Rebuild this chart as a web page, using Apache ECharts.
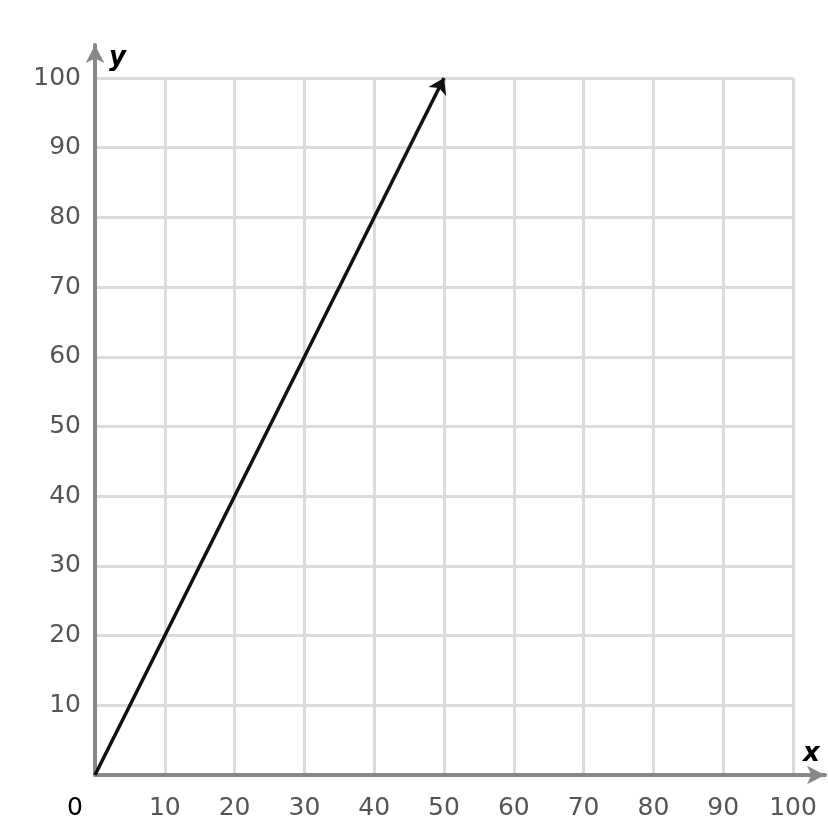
<!DOCTYPE html>
<html><head><meta charset="utf-8">
<script src="https://cdn.jsdelivr.net/npm/echarts@6/dist/echarts.min.js"></script>
<style>html,body{margin:0;padding:0;background:#fff}#c{width:828px;height:828px}</style>
</head><body><div id="c"></div>
<script>
const xTicks = [0,10,20,30,40,50,60,70,80,90,100];
const yTicks = [0,10,20,30,40,50,60,70,80,90,100];
const lineStart = [0, 0];
const lineEnd = [50, 100];

const chart = echarts.init(document.getElementById('c'), null, {renderer:'canvas'});
const font = 'DejaVu Sans';
const fs = 25;
chart.setOption({
  animation:false,
  backgroundColor:'#fff',
  grid:[
    {left:95, right:35, top:78, bottom:53},
    {left:95, right:3, top:45, bottom:53}
  ],
  xAxis:[
    {gridIndex:0, type:'value', min:xTicks[0], max:xTicks[xTicks.length-1], interval:10,
     axisLine:{show:false}, axisTick:{show:false},
     splitLine:{show:true, lineStyle:{color:'#dcdcdc', width:3}},
     axisLabel:{margin:21, color:'#555', fontFamily:font, fontSize:fs,
       formatter:function(v){ return v===0 ? '{z|0}' : String(v); },
       rich:{z:{color:'#000', fontFamily:font, fontSize:fs, padding:[0,40,0,0]}}}},
    {gridIndex:1, type:'value', min:0, max:1,
     axisLine:{show:true, onZero:false, symbol:['none','arrow'], symbolSize:[14,18], lineStyle:{color:'#888', width:4}},
     axisTick:{show:false}, axisLabel:{show:false}, splitLine:{show:false},
     name:'x', nameLocation:'end', nameGap:-22,
     nameTextStyle:{color:'#000', fontFamily:font, fontSize:26, fontWeight:'bold', fontStyle:'italic', align:'left', verticalAlign:'bottom', padding:[0,0,8,0]}}
  ],
  yAxis:[
    {gridIndex:0, type:'value', min:yTicks[0], max:yTicks[yTicks.length-1], interval:10,
     axisLine:{show:false}, axisTick:{show:false},
     splitLine:{show:true, lineStyle:{color:'#dcdcdc', width:3}},
     axisLabel:{margin:14, color:'#555', fontFamily:font, fontSize:fs,
       formatter:function(v){ return v===0 ? '' : String(v); }}},
    {gridIndex:1, type:'value', min:0, max:1,
     axisLine:{show:true, onZero:false, symbol:['none','arrow'], symbolSize:[14,18], lineStyle:{color:'#888', width:4}},
     axisTick:{show:false}, axisLabel:{show:false}, splitLine:{show:false},
     name:'y', nameLocation:'end', nameGap:-13,
     nameTextStyle:{color:'#000', fontFamily:font, fontSize:26, fontWeight:'bold', fontStyle:'italic', align:'left', verticalAlign:'middle', padding:[0,0,0,14]}}
  ],
  series:[{
    type:'lines', coordinateSystem:'cartesian2d', xAxisIndex:0, yAxisIndex:0,
    symbol:['none','arrow'], symbolSize:[11,15],
    lineStyle:{color:'#111', width:3.5, opacity:1},
    data:[{coords:[lineStart, lineEnd]}]
  }]
});
</script></body></html>
